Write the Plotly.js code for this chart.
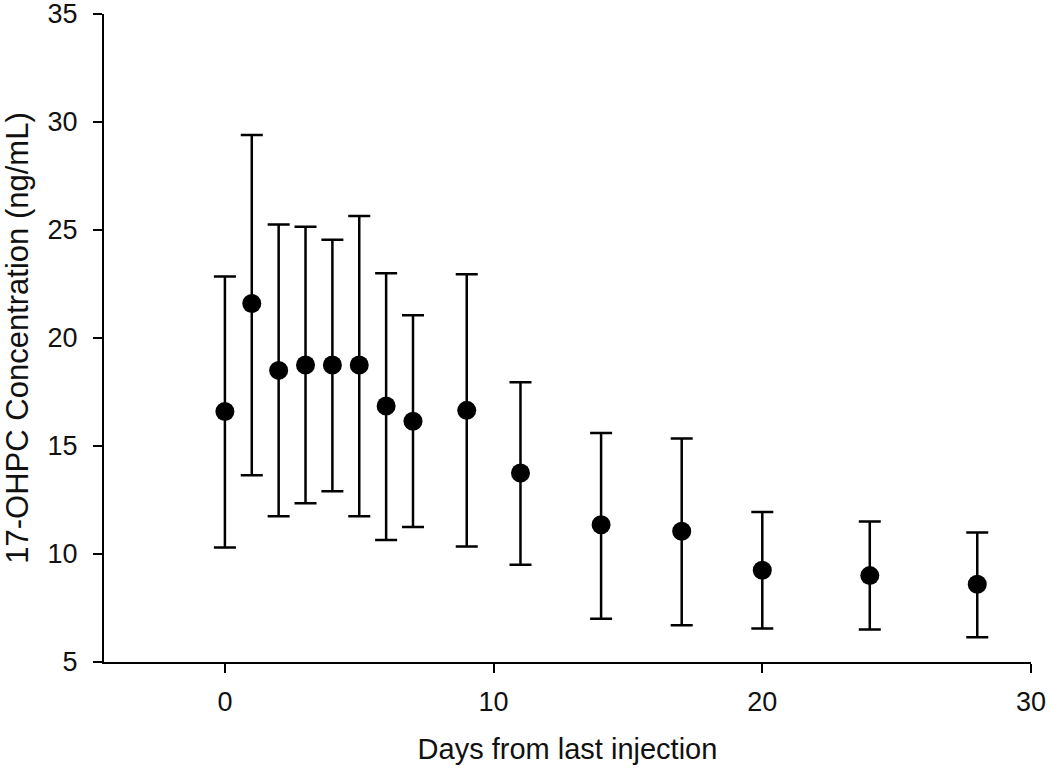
<!DOCTYPE html>
<html>
<head>
<meta charset="utf-8">
<script src="https://cdn.plot.ly/plotly-3.0.1.min.js"></script>
<style>html,body{margin:0;padding:0;background:#fff;}#chart{width:1050px;height:773px;}</style>
</head>
<body>
<div id="chart"></div>
<script>
const days = [0, 1, 2, 3, 4, 5, 6, 7, 9, 11, 14, 17, 20, 24, 28];
const meanConc = [16.6, 21.6, 18.5, 18.75, 18.75, 18.75, 16.85, 16.15, 16.65, 13.75, 11.35, 11.05, 9.25, 9.0, 8.6];
const upperConc = [22.85, 29.4, 25.25, 25.15, 24.55, 25.65, 23.0, 21.05, 22.95, 17.95, 15.6, 15.35, 11.95, 11.5, 11.0];
const lowerConc = [10.3, 13.65, 11.75, 12.35, 12.9, 11.75, 10.65, 11.25, 10.35, 9.5, 7.0, 6.7, 6.55, 6.5, 6.15];
const xTicks = [0, 10, 20, 30];
const yTicks = [5, 10, 15, 20, 25, 30, 35];

const errPlus = upperConc.map((u, i) => u - meanConc[i]);
const errMinus = lowerConc.map((l, i) => meanConc[i] - l);

const trace = {
  x: days,
  y: meanConc,
  type: 'scatter',
  mode: 'markers',
  marker: {color: '#000', size: 19},
  error_y: {
    type: 'data', symmetric: false,
    array: errPlus, arrayminus: errMinus,
    color: '#000', thickness: 2.5, width: 11
  },
  showlegend: false,
  cliponaxis: false
};

const fam = 'Liberation Sans, Arial, sans-serif';

const layout = {
  width: 1050, height: 773,
  margin: {l: 104, r: 19, t: 14, b: 111},
  paper_bgcolor: '#fff', plot_bgcolor: '#fff',
  font: {family: fam, color: '#111'},
  xaxis: {
    range: [-4.5, 30], tickvals: xTicks, ticktext: xTicks.map(String),
    showgrid: false, zeroline: false,
    showline: true, linecolor: '#000', linewidth: 2,
    ticks: 'outside', ticklen: 9, tickwidth: 2, tickcolor: '#000',
    ticklabelstandoff: 6, ticklabeloverflow: 'allow',
    tickfont: {family: fam, size: 27, color: '#111'},
    title: {text: 'Days from last injection', font: {family: fam, size: 29, color: '#111'}, standoff: 22},
    automargin: false
  },
  yaxis: {
    range: [5, 35], tickvals: yTicks, ticktext: yTicks.map(String),
    showgrid: false, zeroline: false,
    showline: true, linecolor: '#000', linewidth: 2,
    ticks: 'outside', ticklen: 9, tickwidth: 2, tickcolor: '#000',
    ticklabelstandoff: 10, ticklabeloverflow: 'allow',
    tickfont: {family: fam, size: 27, color: '#111'},
    title: {text: '17-OHPC Concentration (ng/mL)', font: {family: fam, size: 31, color: '#111'}, standoff: 26},
    automargin: false
  }
};

Plotly.newPlot('chart', [trace], layout, {displayModeBar: false, staticPlot: true});
</script>
</body>
</html>
